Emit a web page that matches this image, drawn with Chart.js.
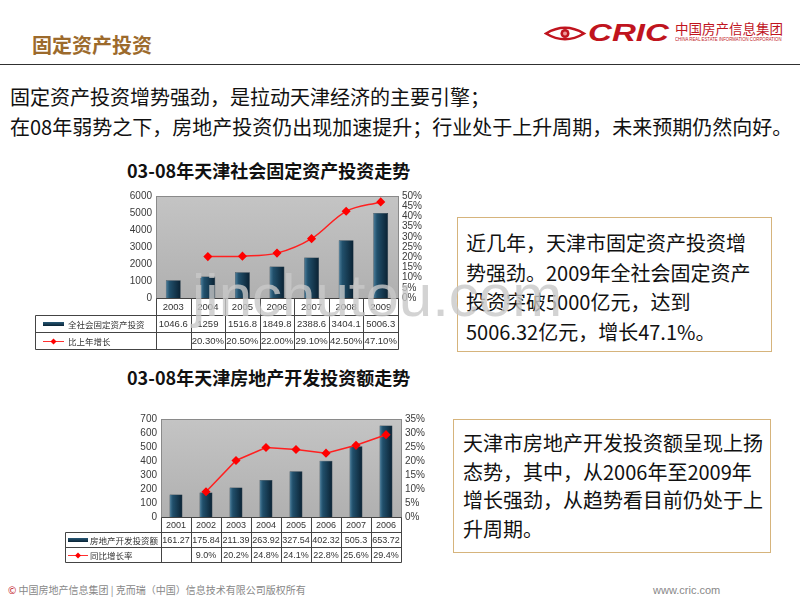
<!DOCTYPE html>
<html>
<head>
<meta charset="utf-8">
<script src="https://cdn.jsdelivr.net/npm/chart.js@4/dist/chart.umd.min.js"></script>
<style>
  body { margin: 0; width: 800px; height: 600px; position: relative; background: #fff; font-family: "Noto Sans CJK SC", sans-serif; overflow: hidden; }
  .abs { position: absolute; white-space: nowrap; }
  .box { position: absolute; box-sizing: border-box; border: 1px solid #d6b47c; background: #fff; font-size: 20px; color: #111; white-space: nowrap; }
  canvas { position: absolute; }
</style>
</head>
<body>

<div class="abs" style="left:32px;top:33px;font-size:20px;line-height:24px;font-weight:bold;color:#9c6a2c;">固定资产投资</div>

<!-- logo -->
<svg class="abs" style="left:544px;top:25px" width="44" height="17" viewBox="0 0 44 17">
  <path d="M2 8.5 Q21 -3 40 8.5 Q21 20 2 8.5 Z" fill="none" stroke="#c0141e" stroke-width="2.5"/>
  <circle cx="21" cy="8.5" r="4.5" fill="#c0141e"/>
  <circle cx="21" cy="8.5" r="2" fill="#e99"/>
</svg>
<div class="abs" style="left:588px;top:20px;font-family:'Liberation Sans';font-weight:bold;font-style:italic;font-size:24px;line-height:26px;color:#c0141e;transform:scaleX(1.38);transform-origin:left;">CRIC</div>
<div class="abs" style="left:675px;top:20px;font-size:13.5px;line-height:17px;color:#c0141e;">中国房产信息集团</div>
<div class="abs" style="left:675px;top:36px;font-family:'Liberation Sans';font-size:5px;line-height:6px;color:#c0141e;transform:scaleX(0.86);transform-origin:left;">CHINA REAL ESTATE INFORMATION CORPORATION</div>

<div class="abs" style="left:0;top:64px;width:800px;height:1px;background:#303030;"></div>

<div class="abs" style="left:10px;top:82px;font-size:20px;line-height:30px;color:#111;">固定资产投资增势强劲，是拉动天津经济的主要引擎；<br>在08年弱势之下，房地产投资仍出现加速提升；行业处于上升周期，未来预期仍然向好。</div>

<div class="abs" style="left:127px;top:159px;font-size:18px;line-height:22px;font-weight:bold;color:#111;">03-08年天津社会固定资产投资走势</div>
<div class="abs" style="left:127px;top:366px;font-size:18px;line-height:22px;font-weight:bold;color:#111;">03-08年天津房地产开发投资额走势</div>

<canvas id="fixedChart" width="410" height="170" style="left:30px;top:185px;"></canvas>
<canvas id="estateChart" width="385" height="160" style="left:55px;top:405px;"></canvas>

<div class="box" style="left:457px;top:217px;width:315px;height:135px;padding:10px 0 0 8px;line-height:29.5px;">近几年，天津市固定资产投资增<br>势强劲。2009年全社会固定资产<br>投资突破5000亿元，达到<br>5006.32亿元，增长47.1%。</div>
<div class="box" style="left:453px;top:419px;width:318px;height:134px;padding:9px 0 0 9px;line-height:28.5px;">天津市房地产开发投资额呈现上扬<br>态势，其中，从2006年至2009年<br>增长强劲，从趋势看目前仍处于上<br>升周期。</div>

<div class="abs" style="left:8px;top:583px;font-size:10px;line-height:14px;color:#888;"><span style="color:#c0141e">©</span> 中国房地产信息集团 | 克而瑞（中国）信息技术有限公司版权所有</div>
<div class="abs" style="left:653px;top:583px;font-family:'Liberation Sans';font-size:11px;line-height:14px;color:#888;">www.cric.com</div>

<div class="abs" style="left:192px;top:266px;font-family:'Liberation Sans';font-size:60px;line-height:60px;color:rgba(200,200,200,0.8);pointer-events:none;">jinchutou.com</div>

<script>
// 全社会固定资产投资 (亿元) 与 比上年增长 (%)
const fixedYears = ["2003", "2004", "2005", "2006", "2007", "2008", "2009"];
const fixedInvest = [1046.6, 1259, 1516.8, 1849.8, 2388.6, 3404.1, 5006.3];
const fixedGrowth = [null, 20.3, 20.5, 22.0, 29.1, 42.5, 47.1];

// 房地产开发投资额 (亿元) 与 同比增长率 (%)
const estateYears = ["2001", "2002", "2003", "2004", "2005", "2006", "2007", "2006"];
const estateInvest = [161.27, 175.84, 211.39, 263.92, 327.54, 402.32, 505.3, 653.72];
const estateGrowth = [null, 9.0, 20.2, 24.8, 24.1, 22.8, 25.6, 29.4];

const tickFont = { family: "Liberation Sans", size: 10 };

function barFill(ctx) {
    const chart = ctx.chart;
    const xs = chart.scales.x;
    if (!xs || ctx.type !== "data") return "#1f4d6a";
    const cx = xs.getPixelForValue(ctx.dataIndex);
    const half = xs.width / chart.data.labels.length * 0.43 / 2;
    if (!Number.isFinite(cx) || !Number.isFinite(half) || half <= 0) return "#1f4d6a";
    const g = chart.ctx.createLinearGradient(cx - half, 0, cx + half, 0);
    g.addColorStop(0, "#4f819e");
    g.addColorStop(0.25, "#21506c");
    g.addColorStop(1, "#0a2132");
    return g;
}

// plot background + data table under the chart
function tablePlugin(opt) {
    return {
        id: "dataTable",
        beforeDraw(chart) {
            const c = chart.ctx, a = chart.chartArea;
            const g = c.createLinearGradient(0, a.top, 0, a.bottom);
            g.addColorStop(0, "#c4c4c4");
            g.addColorStop(1, "#b0b0b0");
            c.save();
            c.fillStyle = g;
            c.fillRect(a.left, a.top, a.right - a.left, a.bottom - a.top);
            c.restore();
        },
        afterDraw(chart) {
            const c = chart.ctx, a = chart.chartArea, xs = chart.scales.x;
            const n = chart.data.labels.length;
            const w = (a.right - a.left) / n;
            const h = opt.rowH;
            const y0 = Math.round(a.bottom) + 0.5;
            const L = opt.legendLeft + 0.5;
            c.save();
            c.lineWidth = 1;
            c.strokeStyle = "#8a8a8a";
            c.strokeRect(Math.round(a.left) + 0.5, Math.round(a.top) + 0.5, Math.round(a.right - a.left), Math.round(a.bottom - a.top));
            c.strokeStyle = "#444";
            c.beginPath();
            c.moveTo(Math.round(a.left) + 0.5, y0); c.lineTo(Math.round(a.right) + 0.5, y0);
            for (let r = 1; r <= 3; r++) {
                const y = Math.round(a.bottom + r * h) + 0.5;
                c.moveTo(L, y); c.lineTo(Math.round(a.right) + 0.5, y);
            }
            for (let i = 0; i <= n; i++) {
                const x = Math.round(a.left + i * w) + 0.5;
                c.moveTo(x, y0); c.lineTo(x, Math.round(a.bottom + 3 * h) + 0.5);
            }
            c.moveTo(L, Math.round(a.bottom + h) + 0.5); c.lineTo(L, Math.round(a.bottom + 3 * h) + 0.5);
            c.stroke();

            c.fillStyle = "#333";
            c.textAlign = "center";
            c.textBaseline = "middle";
            c.font = opt.cellFont + "px 'Liberation Sans'";
            const barVals = chart.data.datasets[1].data;
            const lineVals = chart.data.datasets[0].data;
            for (let i = 0; i < n; i++) {
                const cx = xs.getPixelForValue(i);
                c.fillText(chart.data.labels[i], cx, a.bottom + h * 0.5 + 1);
                c.fillText(String(barVals[i]), cx, a.bottom + h * 1.5 + 1);
                if (lineVals[i] !== null) c.fillText(lineVals[i].toFixed(opt.digits) + "%", cx, a.bottom + h * 2.5 + 1);
            }

            // legend keys
            const sx0 = opt.legendLeft + opt.keyX[0], sx1 = opt.legendLeft + opt.keyX[1];
            const bar = c.createLinearGradient(0, a.bottom + h * 1.5 - 2, 0, a.bottom + h * 1.5 + 2);
            bar.addColorStop(0, "#2b5f7f");
            bar.addColorStop(1, "#0d2a3d");
            c.fillStyle = bar;
            c.fillRect(sx0, Math.round(a.bottom + h * 1.5) - 2, sx1 - sx0, 4);
            const ly = Math.round(a.bottom + h * 2.5) + 0.5;
            c.strokeStyle = "#ff3030";
            c.beginPath(); c.moveTo(sx0, ly); c.lineTo(sx1, ly); c.stroke();
            const mx = (sx0 + sx1) / 2;
            c.fillStyle = "#ff0000";
            c.beginPath(); c.moveTo(mx, ly - 3); c.lineTo(mx + 3, ly); c.lineTo(mx, ly + 3); c.lineTo(mx - 3, ly); c.closePath(); c.fill();

            c.fillStyle = "#333";
            c.textAlign = "left";
            c.font = "8.5px 'Noto Sans CJK SC'";
            c.fillText(opt.names[0], opt.legendLeft + opt.keyX[2], a.bottom + h * 1.5 + 1);
            c.fillText(opt.names[1], opt.legendLeft + opt.keyX[2], a.bottom + h * 2.5 + 1);
            c.restore();
        }
    };
}

function makeChart(id, labels, invest, growth, o) {
    return new Chart(document.getElementById(id), {
        type: "bar",
        data: {
            labels: labels,
            datasets: [
                {
                    type: "line",
                    label: o.names[1],
                    data: growth,
                    yAxisID: "y1",
                    order: 0,
                    borderColor: "#ff2020",
                    borderWidth: 1.5,
                    tension: o.tension,
                    pointStyle: "rectRot",
                    pointRadius: 3.5,
                    pointBackgroundColor: "#ff0000",
                    pointBorderColor: "#ff0000"
                },
                {
                    label: o.names[0],
                    data: invest,
                    yAxisID: "y",
                    order: 1,
                    backgroundColor: barFill,
                    borderColor: "#0a2233",
                    borderWidth: 0.5,
                    barPercentage: 0.43,
                    categoryPercentage: 1
                }
            ]
        },
        options: {
            responsive: false,
            animation: false,
            layout: { padding: { left: 0, right: 0, top: o.top, bottom: o.bottom } },
            plugins: { legend: { display: false }, tooltip: { enabled: false }, title: { display: false } },
            scales: {
                x: { display: false, offset: true },
                y: {
                    position: "left",
                    min: 0, max: o.max,
                    ticks: { stepSize: o.step, autoSkip: false, font: tickFont, color: "#3a3a3a", padding: 4, callback: v => String(v) },
                    grid: { display: false, drawTicks: false },
                    border: { display: false },
                    afterFit: s => { s.width = o.leftW; }
                },
                y1: {
                    position: "right",
                    min: 0, max: o.pmax,
                    ticks: { stepSize: 5, autoSkip: false, font: tickFont, color: "#3a3a3a", padding: 4, callback: v => v + "%" },
                    grid: { display: false, drawTicks: false },
                    border: { display: false },
                    afterFit: s => { s.width = o.rightW; }
                }
            }
        },
        plugins: [tablePlugin(o)]
    });
}

makeChart("fixedChart", fixedYears, fixedInvest, fixedGrowth, {
    names: ["全社会固定资产投资", "比上年增长"],
    max: 6000, step: 1000, pmax: 50,
    top: 11, bottom: 57, leftW: 126, rightW: 42,
    rowH: 17, legendLeft: 5, digits: 2, tension: 0.35, cellFont: 9.5,
    keyX: [8, 29, 33]
});

makeChart("estateChart", estateYears, estateInvest, estateGrowth, {
    names: ["房地产开发投资额", "同比增长率"],
    max: 700, step: 100, pmax: 35,
    top: 14, bottom: 48, leftW: 106, rightW: 39,
    rowH: 15, legendLeft: 10, digits: 1, tension: 0, cellFont: 9,
    keyX: [3, 23, 25]
});
</script>
</body>
</html>
